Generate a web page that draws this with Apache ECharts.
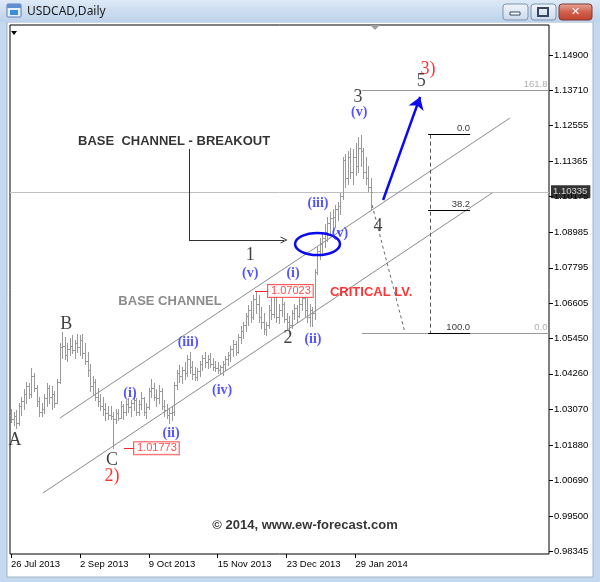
<!DOCTYPE html>
<html><head><meta charset="utf-8">
<script src="https://cdn.jsdelivr.net/npm/echarts@6/dist/echarts.min.js"></script>
<style>html,body{margin:0;padding:0;background:#c4d9ef;}#chart{width:600px;height:582px;}</style>
</head><body><div id="chart"></div>
<script>
// ---------------- data ----------------
const tickIdx = [0, 27, 54, 81, 108, 135];
const dateLabels = ['26 Jul 2013', '2 Sep 2013', '9 Oct 2013', '15 Nov 2013', '23 Dec 2013', '29 Jan 2014'];
const priceTicks = [1.149, 1.1371, 1.12555, 1.11365, 1.10175, 1.08985, 1.07795, 1.06605, 1.0545, 1.0426, 1.0307, 1.0188, 1.0069, 0.995, 0.98345];
const lastPrice = 1.10335;

const opens = [1.0290,1.0275,1.0285,1.0262,1.0320,1.0335,1.0360,1.0385,1.0360,1.0420,1.0380,1.0335,1.0300,1.0310,1.0345,1.0380,1.0350,1.0360,1.0330,1.0400,
1.0515,1.0520,1.0490,1.0510,1.0520,1.0505,1.0530,1.0515,1.0540,1.0495,1.0470,1.0440,1.0385,1.0400,1.0350,1.0335,1.0320,1.0310,1.0295,1.0290,
1.0285,1.0275,1.0295,1.0280,1.0320,1.0300,1.0325,1.0315,1.0330,1.0340,1.0300,1.0325,1.0345,1.0300,1.0315,1.0370,1.0380,1.0350,1.0345,1.0370,
1.0320,1.0305,1.0290,1.0295,1.0300,1.0390,1.0430,1.0420,1.0440,1.0430,1.0475,1.0450,1.0425,1.0415,1.0435,1.0460,1.0480,1.0465,1.0475,1.0460,
1.0450,1.0445,1.0440,1.0450,1.0460,1.0475,1.0490,1.0510,1.0525,1.0500,1.0550,1.0570,1.0590,1.0620,1.0640,1.0615,1.0675,1.0660,1.0615,1.0600,
1.0575,1.0590,1.0640,1.0625,1.0685,1.0615,1.0640,1.0660,1.0610,1.0600,1.0590,1.0630,1.0645,1.0620,1.0660,1.0680,1.0640,1.0615,1.0640,1.0630,
1.0765,1.0835,1.0860,1.0880,1.0900,1.0930,1.0945,1.0950,1.0975,1.0985,1.1020,1.1140,1.1080,1.1150,1.1100,1.1150,1.1120,1.1180,1.1170,1.1100,
1.1080,1.1050];
const highs = [1.0310,1.0300,1.0305,1.0330,1.0350,1.0375,1.0400,1.0395,1.0445,1.0430,1.0390,1.0350,1.0330,1.0360,1.0395,1.0390,1.0385,1.0370,1.0410,1.0530,
1.0565,1.0550,1.0530,1.0545,1.0555,1.0540,1.0560,1.0555,1.0560,1.0530,1.0500,1.0460,1.0420,1.0410,1.0380,1.0360,1.0350,1.0330,1.0320,1.0320,
1.0300,1.0310,1.0310,1.0335,1.0325,1.0340,1.0345,1.0340,1.0355,1.0345,1.0340,1.0365,1.0350,1.0330,1.0380,1.0410,1.0395,1.0375,1.0390,1.0380,
1.0340,1.0325,1.0310,1.0320,1.0400,1.0440,1.0455,1.0450,1.0465,1.0490,1.0500,1.0470,1.0450,1.0445,1.0470,1.0490,1.0500,1.0490,1.0495,1.0480,
1.0470,1.0465,1.0455,1.0470,1.0485,1.0500,1.0520,1.0540,1.0535,1.0560,1.0585,1.0600,1.0630,1.0655,1.0670,1.0690,1.07023,1.0690,1.0650,1.0630,
1.0600,1.0655,1.0680,1.0700,1.0690,1.0660,1.0680,1.0665,1.0630,1.0620,1.0640,1.0660,1.0655,1.0680,1.0700,1.0690,1.0680,1.0660,1.0650,1.0775,
1.0850,1.0880,1.0900,1.0925,1.0950,1.0965,1.0975,1.0990,1.1000,1.1030,1.1150,1.1160,1.1170,1.1180,1.1175,1.1195,1.1215,1.1224,1.1180,1.1150,
1.1120,1.1080];
const lows = [1.0265,1.0255,1.0245,1.0255,1.0290,1.0310,1.0330,1.0345,1.0350,1.0370,1.0320,1.0285,1.0285,1.0295,1.0320,1.0330,1.0310,1.0315,1.0330,1.0395,
1.0480,1.0475,1.0470,1.0490,1.0495,1.0480,1.0500,1.0490,1.0480,1.0460,1.0420,1.0370,1.0360,1.0340,1.0320,1.0305,1.0290,1.0270,1.0275,1.0275,
1.01773,1.0260,1.0270,1.0280,1.0275,1.0290,1.0300,1.0285,1.0305,1.0290,1.0290,1.0310,1.0290,1.0280,1.0310,1.0350,1.0340,1.0320,1.0330,1.0310,
1.0285,1.0280,1.0262,1.0270,1.0290,1.0375,1.0400,1.0395,1.0410,1.0420,1.0430,1.0410,1.0405,1.0405,1.0420,1.0440,1.0450,1.0445,1.0450,1.0440,
1.0435,1.0430,1.0425,1.0422,1.0440,1.0455,1.0470,1.0485,1.0490,1.0495,1.0530,1.0545,1.0570,1.0590,1.0600,1.0610,1.0630,1.0600,1.0580,1.0560,
1.0555,1.0580,1.0610,1.0615,1.0600,1.0595,1.0620,1.0600,1.0580,1.0562,1.0580,1.0610,1.0600,1.0615,1.0640,1.0620,1.0600,1.0585,1.0585,1.0610,
1.0760,1.0810,1.0830,1.0850,1.0870,1.0890,1.0905,1.0920,1.0940,1.0960,1.1010,1.1050,1.1060,1.1080,1.1060,1.1090,1.1100,1.1120,1.1080,1.1060,
1.1035,1.0975];
const closes = [1.0275,1.0285,1.0260,1.0320,1.0335,1.0360,1.0385,1.0360,1.0420,1.0380,1.0335,1.0300,1.0310,1.0345,1.0380,1.0350,1.0360,1.0330,1.0400,1.0515,
1.0520,1.0490,1.0510,1.0520,1.0505,1.0530,1.0515,1.0540,1.0495,1.0470,1.0440,1.0385,1.0400,1.0350,1.0335,1.0320,1.0310,1.0295,1.0290,1.0285,
1.0275,1.0295,1.0280,1.0320,1.0300,1.0325,1.0315,1.0330,1.0340,1.0300,1.0325,1.0345,1.0300,1.0315,1.0370,1.0380,1.0350,1.0345,1.0370,1.0320,
1.0305,1.0290,1.0295,1.0300,1.0390,1.0430,1.0420,1.0440,1.0430,1.0475,1.0450,1.0425,1.0415,1.0435,1.0460,1.0480,1.0465,1.0475,1.0460,1.0450,
1.0445,1.0440,1.0450,1.0460,1.0475,1.0490,1.0510,1.0525,1.0500,1.0550,1.0570,1.0590,1.0620,1.0640,1.0615,1.0675,1.0660,1.0615,1.0600,1.0575,
1.0590,1.0640,1.0625,1.0685,1.0615,1.0640,1.0660,1.0610,1.0600,1.0590,1.0630,1.0645,1.0620,1.0660,1.0680,1.0640,1.0615,1.0640,1.0630,1.0765,
1.0835,1.0860,1.0880,1.0900,1.0930,1.0945,1.0950,1.0975,1.0985,1.1020,1.1140,1.1080,1.1150,1.1100,1.1150,1.1120,1.1180,1.1170,1.1100,1.1080,
1.1050,1.10335];

// annotation anchors in (bar index, price)
const blueWaveLabels = [['(i)',46.6,1.0362],['(ii)',62.7,1.0228],['(iii)',69.4,1.0532],['(iv)',82.7,1.0372],['(v)',93.7,1.0762],
  ['(i)',110.5,1.0762],['(ii)',118.3,1.0542],['(iii)',120.3,1.0993],['(v)',128.9,1.0896],['(v)',136.4,1.1300]];
const blackWaveLabels = [['A',1.6,1.0205],['B',21.6,1.0592],['C',39.6,1.0138],['1',93.7,1.0822],['2',108.5,1.0545],['3',136.0,1.1350],['4',143.8,1.0919],['5',160.7,1.1403]];
const redWaveLabels = [['2)',39.6,1.0085],['3)',163.4,1.1443]];
const channelUpper = [[19.2,1.02784],[195.5,1.12797]];
const channelLower = [[12.5,1.00280],[188.5,1.10294]];
const pointerStem = [[69.75,1.11763],[69.75,1.08725]];
const pointerArm = [[69.75,1.08725],[107.0,1.08725]];
const targetArrow = [[145.8,1.1006],[160.3,1.1350]];
const projectionPath = [[141.5,1.0989],[154.4,1.0562]];
const breakoutEllipse = [120.1,1.0859,8.8,0.0037];
const fibRetrace = [['0.0',1.1224],['38.2',1.0971],['100.0',1.0562]];
const fibRange = [163.4,179.9];
const fibExtension = [['161.8',1.1371],['0.0',1.0562]];
const extStart = 137.5;
const priceBoxes = [['1.07023',95.6,100.7,1.07023],['1.01773',44.3,48.2,1.01773]];
const notes = [
  ['BASE  CHANNEL - BREAKOUT',63.9,1.1203,'#000000'],
  ['BASE CHANNEL',62.3,1.0669,'#6e6e6e'],
  ['CRITICAL LV.',141.1,1.0699,'#ff0000'],
  ['© 2014, www.ew-forecast.com',115.2,0.9921,'#000000']
];

// ---------------- chart ----------------
const X_MIN = -0.4, X_MAX = 210.8, Y_MIN = 0.98244, Y_MAX = 1.15901;
const chart = echarts.init(document.getElementById('chart'), null, {renderer:'canvas'});
const bars = opens.map((o,i)=>[i,o,highs[i],lows[i],closes[i]]);
const lbl = arr => arr.map(a=>({name:a[0], value:[a[1],a[2]]}));
const hidden = {symbol:'circle', symbolSize:1, itemStyle:{color:'rgba(0,0,0,0)'}, silent:true, clip:false};

const series = [];
series.push({
  type:'custom', name:'USDCAD', data:bars, encode:{x:0,y:[1,2,3,4]}, z:3,
  renderItem:function(params, api){
    const i=api.value(0);
    const po=api.coord([i,api.value(1)]), ph=api.coord([i,api.value(2)]), pl=api.coord([i,api.value(3)]), pc=api.coord([i,api.value(4)]);
    const x=Math.round(ph[0])+0.5;
    const st={stroke:'#999999', lineWidth:1};
    return {type:'group', children:[
      {type:'line', shape:{x1:x,y1:Math.round(ph[1]),x2:x,y2:Math.round(pl[1])+1}, style:st},
      {type:'line', shape:{x1:x-1.5,y1:Math.round(po[1])+0.5,x2:x,y2:Math.round(po[1])+0.5}, style:st},
      {type:'line', shape:{x1:x,y1:Math.round(pc[1])+0.5,x2:x+1.5,y2:Math.round(pc[1])+0.5}, style:st}
    ]};
  }
});
const linesSeries = (coords, style, symbol, z, symbolSize) => ({type:'lines', coordinateSystem:'cartesian2d', silent:true, z:z||4,
  symbol: symbol||['none','none'], symbolSize: symbolSize||9, lineStyle:Object.assign({opacity:1}, style), data:[{coords:coords}]});
// bid line + price tag
series.push(linesSeries([[X_MIN,lastPrice],[X_MAX,lastPrice]],{color:'#c0c0c0',width:1},null,2));
series.push(Object.assign({type:'scatter', z:8, data:[{name:lastPrice.toFixed(5), value:[X_MAX,lastPrice]}],
  label:{show:true, position:'inside', align:'left', verticalAlign:'middle', offset:[2,0], formatter:'{b}', color:'#fff', backgroundColor:'#000',
    padding:[2,3,1,2], fontSize:9.5, fontFamily:'Liberation Sans'}}, hidden));
series.push(linesSeries(channelUpper,{color:'#8c8c8c',width:1}));
series.push(linesSeries(channelLower,{color:'#8c8c8c',width:1}));
series.push(linesSeries(projectionPath,{color:'#6a6a6a',width:1,type:[3,3]}));
series.push(linesSeries(pointerStem,{color:'#333',width:1}));
series.push(linesSeries(pointerArm,{color:'#333',width:1},['none','path://M0,10 L5,0 L10,10 L8.6,10 L5,2.8 L1.4,10 Z'],4,[9,7]));
series.push(linesSeries(targetArrow,{color:'#0a0af0',width:2.5},['none','arrow'],6,[8,12]));
// fib extension (grey, to right edge)
fibExtension.forEach(f=>{
  series.push(linesSeries([[extStart,f[1]],[X_MAX,f[1]]],{color:'#9a9a9a',width:1}));
});
// fib retracement
fibRetrace.forEach(f=>{
  series.push(linesSeries([[fibRange[0],f[1]],[fibRange[1],f[1]]],{color:'#000',width:1},null,5));
});
series.push(linesSeries([[fibRange[0]+0.8,fibRetrace[0][1]],[fibRange[0]+0.8,fibRetrace[2][1]]],{color:'#555',width:1,type:[4,3]}));
// price box connectors
priceBoxes.forEach(b=>{
  series.push(linesSeries([[b[1],b[3]],[b[2],b[3]]],{color:'#ff2020',width:1},null,5));
});
// ellipse
series.push({type:'custom', data:[breakoutEllipse], silent:true, z:6, clip:false,
  renderItem:function(params, api){
    const c=api.coord([api.value(0),api.value(1)]);
    const s=api.size([api.value(2),api.value(3)]);
    return {type:'ellipse', shape:{cx:c[0],cy:c[1],rx:s[0],ry:s[1]}, style:{fill:'none',stroke:'#0a0af0',lineWidth:2.5}};
  }});
// labels
series.push(Object.assign({type:'scatter', z:7, data:lbl(blueWaveLabels),
  label:{show:true, position:'inside', formatter:'{b}', fontFamily:'Liberation Serif', fontWeight:'bold', fontSize:14, color:'#2a2aff'}}, hidden));
series.push(Object.assign({type:'scatter', z:7, data:lbl(blackWaveLabels),
  label:{show:true, position:'inside', formatter:'{b}', fontFamily:'Liberation Serif', fontSize:18, color:'#111'}}, hidden));
series.push(Object.assign({type:'scatter', z:7, data:lbl(redWaveLabels),
  label:{show:true, position:'inside', formatter:'{b}', fontFamily:'Liberation Serif', fontSize:18, color:'#ff0000'}}, hidden));
series.push(Object.assign({type:'scatter', z:7, data:notes.map(n=>({name:n[0], value:[n[1],n[2]], label:{color:n[3]}})),
  label:{show:true, position:'inside', formatter:'{b}', fontFamily:'Liberation Sans', fontWeight:'bold', fontSize:13}}, hidden));
series.push(Object.assign({type:'scatter', z:7, data:priceBoxes.map(b=>({name:b[0], value:[b[2],b[3]]})),
  label:{show:true, position:'inside', align:'left', verticalAlign:'middle', formatter:'{b}', fontFamily:'Liberation Sans', fontSize:11,
    color:'#ff2020', backgroundColor:'#fff', borderColor:'#ff3030', borderWidth:1, padding:[1,2,0,3]}}, hidden));
series.push(Object.assign({type:'scatter', z:7, data:fibRetrace.map(f=>({name:f[0], value:[fibRange[1],f[1]]})),
  label:{show:true, position:'inside', align:'right', verticalAlign:'bottom', formatter:'{b}', fontFamily:'Liberation Sans', fontSize:9.5, color:'#000', padding:[0,0,1,0]}}, hidden));
series.push(Object.assign({type:'scatter', z:7, data:fibExtension.map(f=>({name:f[0], value:[X_MAX-0.6,f[1]]})),
  label:{show:true, position:'inside', align:'right', verticalAlign:'bottom', formatter:'{b}', fontFamily:'Liberation Sans', fontSize:9.5, color:'#9a9a9a', padding:[0,0,1,0]}}, hidden));

const option = {
  animation:false,
  backgroundColor:'#c4d9ef',
  grid:{left:10, right:51, top:25, bottom:28, show:true, borderColor:'#000', borderWidth:1, backgroundColor:'#fff'},
  xAxis:{type:'value', min:X_MIN, max:X_MAX, splitLine:{show:false}, axisLine:{show:false, onZero:false},
    axisTick:{show:true, customValues:tickIdx, length:4, lineStyle:{color:'#000'}},
    axisLabel:{customValues:tickIdx, formatter:v=>dateLabels[tickIdx.indexOf(Math.round(v))]||'', align:'left', margin:5,
      fontFamily:'Liberation Sans', fontSize:9.5, color:'#000'}},
  yAxis:{type:'value', position:'right', min:Y_MIN, max:Y_MAX, scale:true, splitLine:{show:false}, axisLine:{show:false, onZero:false},
    axisTick:{show:true, customValues:priceTicks, length:4, lineStyle:{color:'#000'}},
    axisLabel:{customValues:priceTicks, formatter:v=>v.toFixed(5), margin:5, fontFamily:'Liberation Sans', fontSize:9.5, color:'#000'}},
  graphic:[
    {type:'rect', z:-10, shape:{x:7,y:22,width:586,height:555}, style:{fill:'#fff', stroke:'#9fb3c9', lineWidth:1}},
    {type:'rect', z:-9, shape:{x:0,y:0,width:600,height:22}, style:{fill:new echarts.graphic.LinearGradient(0,0,0,1,[{offset:0,color:'#dde9f6'},{offset:1,color:'#bcd2eb'}])}},
    {type:'rect', z:1, shape:{x:7,y:4,width:14,height:13,r:1}, style:{fill:'#e8f0fb', stroke:'#5a7fb5', lineWidth:1}},
    {type:'rect', z:1, shape:{x:7,y:4,width:14,height:4}, style:{fill:'#5e8fd0'}},
    {type:'rect', z:1, shape:{x:10,y:10,width:8,height:5}, style:{fill:'#3a8fd8'}},
    {type:'text', z:1, style:{x:27, y:12, text:'USDCAD,Daily', fontFamily:'Noto Sans', fontSize:12, fill:'#1a1a1a', textVerticalAlign:'middle'}},
    {type:'rect', z:1, shape:{x:503,y:4,width:25,height:16,r:3}, style:{fill:new echarts.graphic.LinearGradient(0,0,0,1,[{offset:0,color:'#f2f6fb'},{offset:1,color:'#c9d9ec'}]), stroke:'#7d93b3', lineWidth:1}},
    {type:'rect', z:2, shape:{x:510,y:12,width:10,height:3}, style:{fill:'#fff', stroke:'#37465e', lineWidth:1}},
    {type:'rect', z:1, shape:{x:531,y:4,width:25,height:16,r:3}, style:{fill:new echarts.graphic.LinearGradient(0,0,0,1,[{offset:0,color:'#f2f6fb'},{offset:1,color:'#c9d9ec'}]), stroke:'#7d93b3', lineWidth:1}},
    {type:'rect', z:2, shape:{x:538,y:8,width:10,height:8}, style:{fill:'none', stroke:'#37465e', lineWidth:2}},
    {type:'rect', z:1, shape:{x:559,y:4,width:33,height:16,r:3}, style:{fill:new echarts.graphic.LinearGradient(0,0,0,1,[{offset:0,color:'#e9a99b'},{offset:0.5,color:'#d0614d'},{offset:1,color:'#c0402c'}]), stroke:'#7b3a33', lineWidth:1}},
    {type:'text', z:2, style:{x:575.5, y:12.5, text:'✕', fontFamily:'DejaVu Sans', fontWeight:'bold', fontSize:11, fill:'#fff', textAlign:'center', textVerticalAlign:'middle'}},
    {type:'polygon', z:10, shape:{points:[[11,31],[17,31],[14,35]]}, style:{fill:'#000'}},
    {type:'polygon', z:10, shape:{points:[[370,25],[380,25],[375,30]]}, style:{fill:'#a0a0a0'}}
  ],
  series:series
};
chart.setOption(option);
</script></body></html>
